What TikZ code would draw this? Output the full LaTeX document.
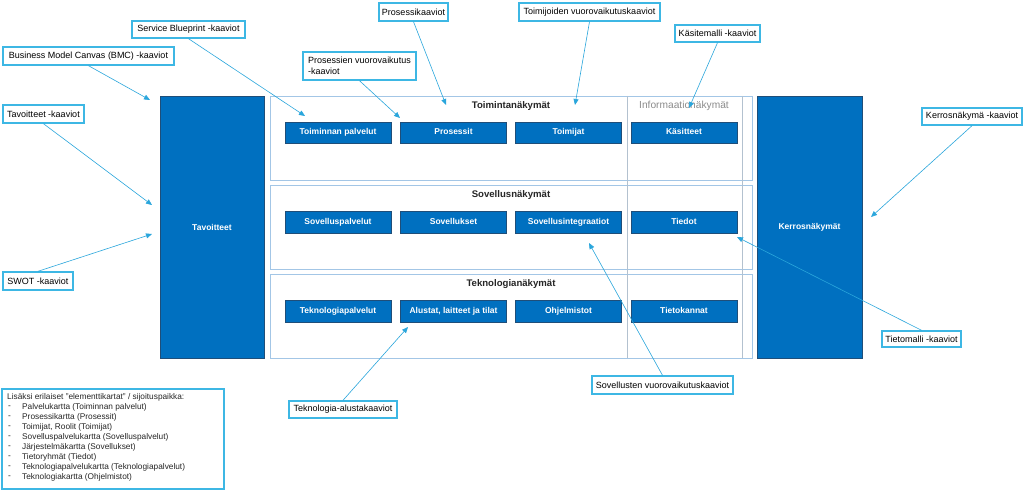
\documentclass[tikz,border=0pt]{standalone}
\usepackage{fontspec}
\setmainfont{Liberation Sans}
\usetikzlibrary{arrows.meta}
\definecolor{callb}{HTML}{3DB7E4}
\definecolor{arrc}{HTML}{2AA6DC}
\definecolor{frameb}{HTML}{A3C6E6}
\definecolor{vline}{HTML}{B3C1CF}
\definecolor{bluef}{HTML}{0070C0}
\definecolor{blued}{HTML}{1F4E79}
\definecolor{infog}{HTML}{8C8C8C}
\tikzset{
  elem/.style={fill=bluef, draw=blued, line width=0.5pt, text=white, inner sep=0pt,
    minimum width=106pt, minimum height=21.5pt, text height=6.2pt, text depth=1.6pt,
    font=\fontsize{8.5}{9}\selectfont\bfseries},
  col/.style={fill=bluef, draw=blued, line width=0.5pt, text=white, inner sep=0pt,
    font=\fontsize{8.5}{9}\selectfont\bfseries},
  rowframe/.style={draw=frameb, line width=0.9pt},
  callout/.style={draw=callb, line width=1.4pt, fill=white, inner sep=0pt, text=black,
    font=\fontsize{9}{11}\selectfont},
  conn/.style={draw=arrc, line width=0.6pt, -{Triangle[length=6pt,width=5pt]}},
  rowtitle/.style={font=\fontsize{9.6}{11}\selectfont\bfseries, text=black!85, inner sep=0pt},
}
\begin{document}
\begin{tikzpicture}[x=1pt,y=-1pt]
\useasboundingbox[fill=white] (0,0) rectangle (1024,492);

% row frames
\draw[rowframe] (270,96) rectangle (752,180);
\draw[rowframe] (270,185) rectangle (752,269);
\draw[rowframe] (270,274) rectangle (752,358);
% vertical lines
\draw[vline, line width=0.7pt] (627,96) -- (627,358);
\draw[vline, line width=0.7pt] (742,96) -- (742,358);

% columns
\node[col, minimum width=104pt, minimum height=262pt] (tav) at (212,227) {Tavoitteet};
\node[col, minimum width=105pt, minimum height=262pt] (ker) at (809.5,227) {Kerrosnäkymät};

% row titles
\node[rowtitle] (t1) at (511,106) {Toimintanäkymät};
\node[font=\fontsize{10.2}{11}\selectfont, text=infog, inner sep=0pt] (t1b) at (684,106) {Informaationäkymät};
\node[rowtitle] (t2) at (511,195) {Sovellusnäkymät};
\node[rowtitle] (t3) at (511,284) {Teknologianäkymät};

% elements row 1
\node[elem] (e11) at (338,132.5) {Toiminnan palvelut};
\node[elem] (e12) at (453.5,132.5) {Prosessit};
\node[elem] (e13) at (568.5,132.5) {Toimijat};
\node[elem] (e14) at (684,132.5) {Käsitteet};
% row 2
\node[elem] (e21) at (338,222) {Sovelluspalvelut};
\node[elem] (e22) at (453.5,222) {Sovellukset};
\node[elem] (e23) at (568.5,222) {Sovellusintegraatiot};
\node[elem] (e24) at (684,222) {Tiedot};
% row 3
\node[elem] (e31) at (338,311) {Teknologiapalvelut};
\node[elem] (e32) at (453.5,311) {Alustat, laitteet ja tilat};
\node[elem] (e33) at (568.5,311) {Ohjelmistot};
\node[elem] (e34) at (684,311) {Tietokannat};

% callouts
\node[callout, minimum width=171pt, minimum height=18pt] (bmc) at (88.5,56) {Business Model Canvas (BMC) -kaaviot};
\node[callout, minimum width=113pt, minimum height=17pt] (sb) at (188.5,29.5) {Service Blueprint -kaaviot};
\node[callout, minimum width=81pt, minimum height=18pt] (tk) at (43.5,114) {Tavoitteet -kaaviot};
\node[callout, minimum width=70pt, minimum height=18pt] (swot) at (38,281) {SWOT -kaaviot};
\node[callout, minimum width=69pt, minimum height=18pt] (pk) at (413.5,12) {Prosessikaaviot};
\node[callout, minimum width=141pt, minimum height=18pt] (tvk) at (589.5,12) {Toimijoiden vuorovaikutuskaaviot};
\node[callout, minimum width=85pt, minimum height=17pt] (km) at (717.5,33.5) {Käsitemalli -kaaviot};
\node[callout, minimum width=113pt, minimum height=28pt, align=left] (pvv) at (359.5,66) {Prosessien vuorovaikutus\\-kaaviot\hspace*{70pt}};
\node[callout, minimum width=100pt, minimum height=17pt] (kn) at (972,116.5) {Kerrosnäkymä -kaaviot};
\node[callout, minimum width=79pt, minimum height=16pt] (tm) at (921.5,339) {Tietomalli -kaaviot};
\node[callout, minimum width=141pt, minimum height=18pt] (svv) at (662.5,385) {Sovellusten vuorovaikutuskaaviot};
\node[callout, minimum width=108pt, minimum height=17pt] (ta) at (343,409.5) {Teknologia-alustakaaviot};

% list box
\node[callout, minimum width=222pt, minimum height=100pt] (lst) at (113,439) {};
\begin{scope}[every node/.style={anchor=west, inner sep=0pt, text=black!85, font=\fontsize{8.3}{10}\selectfont}]
\node (l0) at (7,397) {Lisäksi erilaiset ”elementtikartat” / sijoituspaikka:};
\foreach \t [count=\i] in {Palvelukartta (Toiminnan palvelut),Prosessikartta (Prosessit),{Toimijat, Roolit (Toimijat)},Sovelluspalvelukartta (Sovelluspalvelut),Järjestelmäkartta (Sovellukset),Tietoryhmät (Tiedot),Teknologiapalvelukartta (Teknologiapalvelut),Teknologiakartta (Ohjelmistot)}{
  \node (ld\i) at (8,397+10*\i) {-};
  \node (li\i) at (22,397+10*\i) {\t};
}
\end{scope}

% head coordinates
\coordinate (hbmc) at (150,100);
\coordinate (hsb) at (305,116);
\coordinate (htk) at (152,205);
\coordinate (hswot) at (152,234);
\coordinate (hpvv) at (400,118);
\coordinate (hpk) at (446,105);
\coordinate (htvk) at (575,105);
\coordinate (hkm) at (689,108);
\coordinate (hkn) at (871,217);
\coordinate (htm) at (737,237);
\coordinate (hsvv) at (589,243);
\coordinate (hta) at (408,327);

% connectors
\draw[conn] (bmc.south) -- (hbmc);
\draw[conn] (sb.south) -- (hsb);
\draw[conn] (tk.south) -- (htk);
\draw[conn] (swot.north) -- (hswot);
\draw[conn] (pvv.south) -- (hpvv);
\draw[conn] (pk.south) -- (hpk);
\draw[conn] (tvk.south) -- (htvk);
\draw[conn] (km.south) -- (hkm);
\draw[conn] (kn.south) -- (hkn);
\draw[conn] (tm.north) -- (htm);
\draw[conn] (svv.north) -- (hsvv);
\draw[conn] (ta.north) -- (hta);
\end{tikzpicture}
\end{document}
